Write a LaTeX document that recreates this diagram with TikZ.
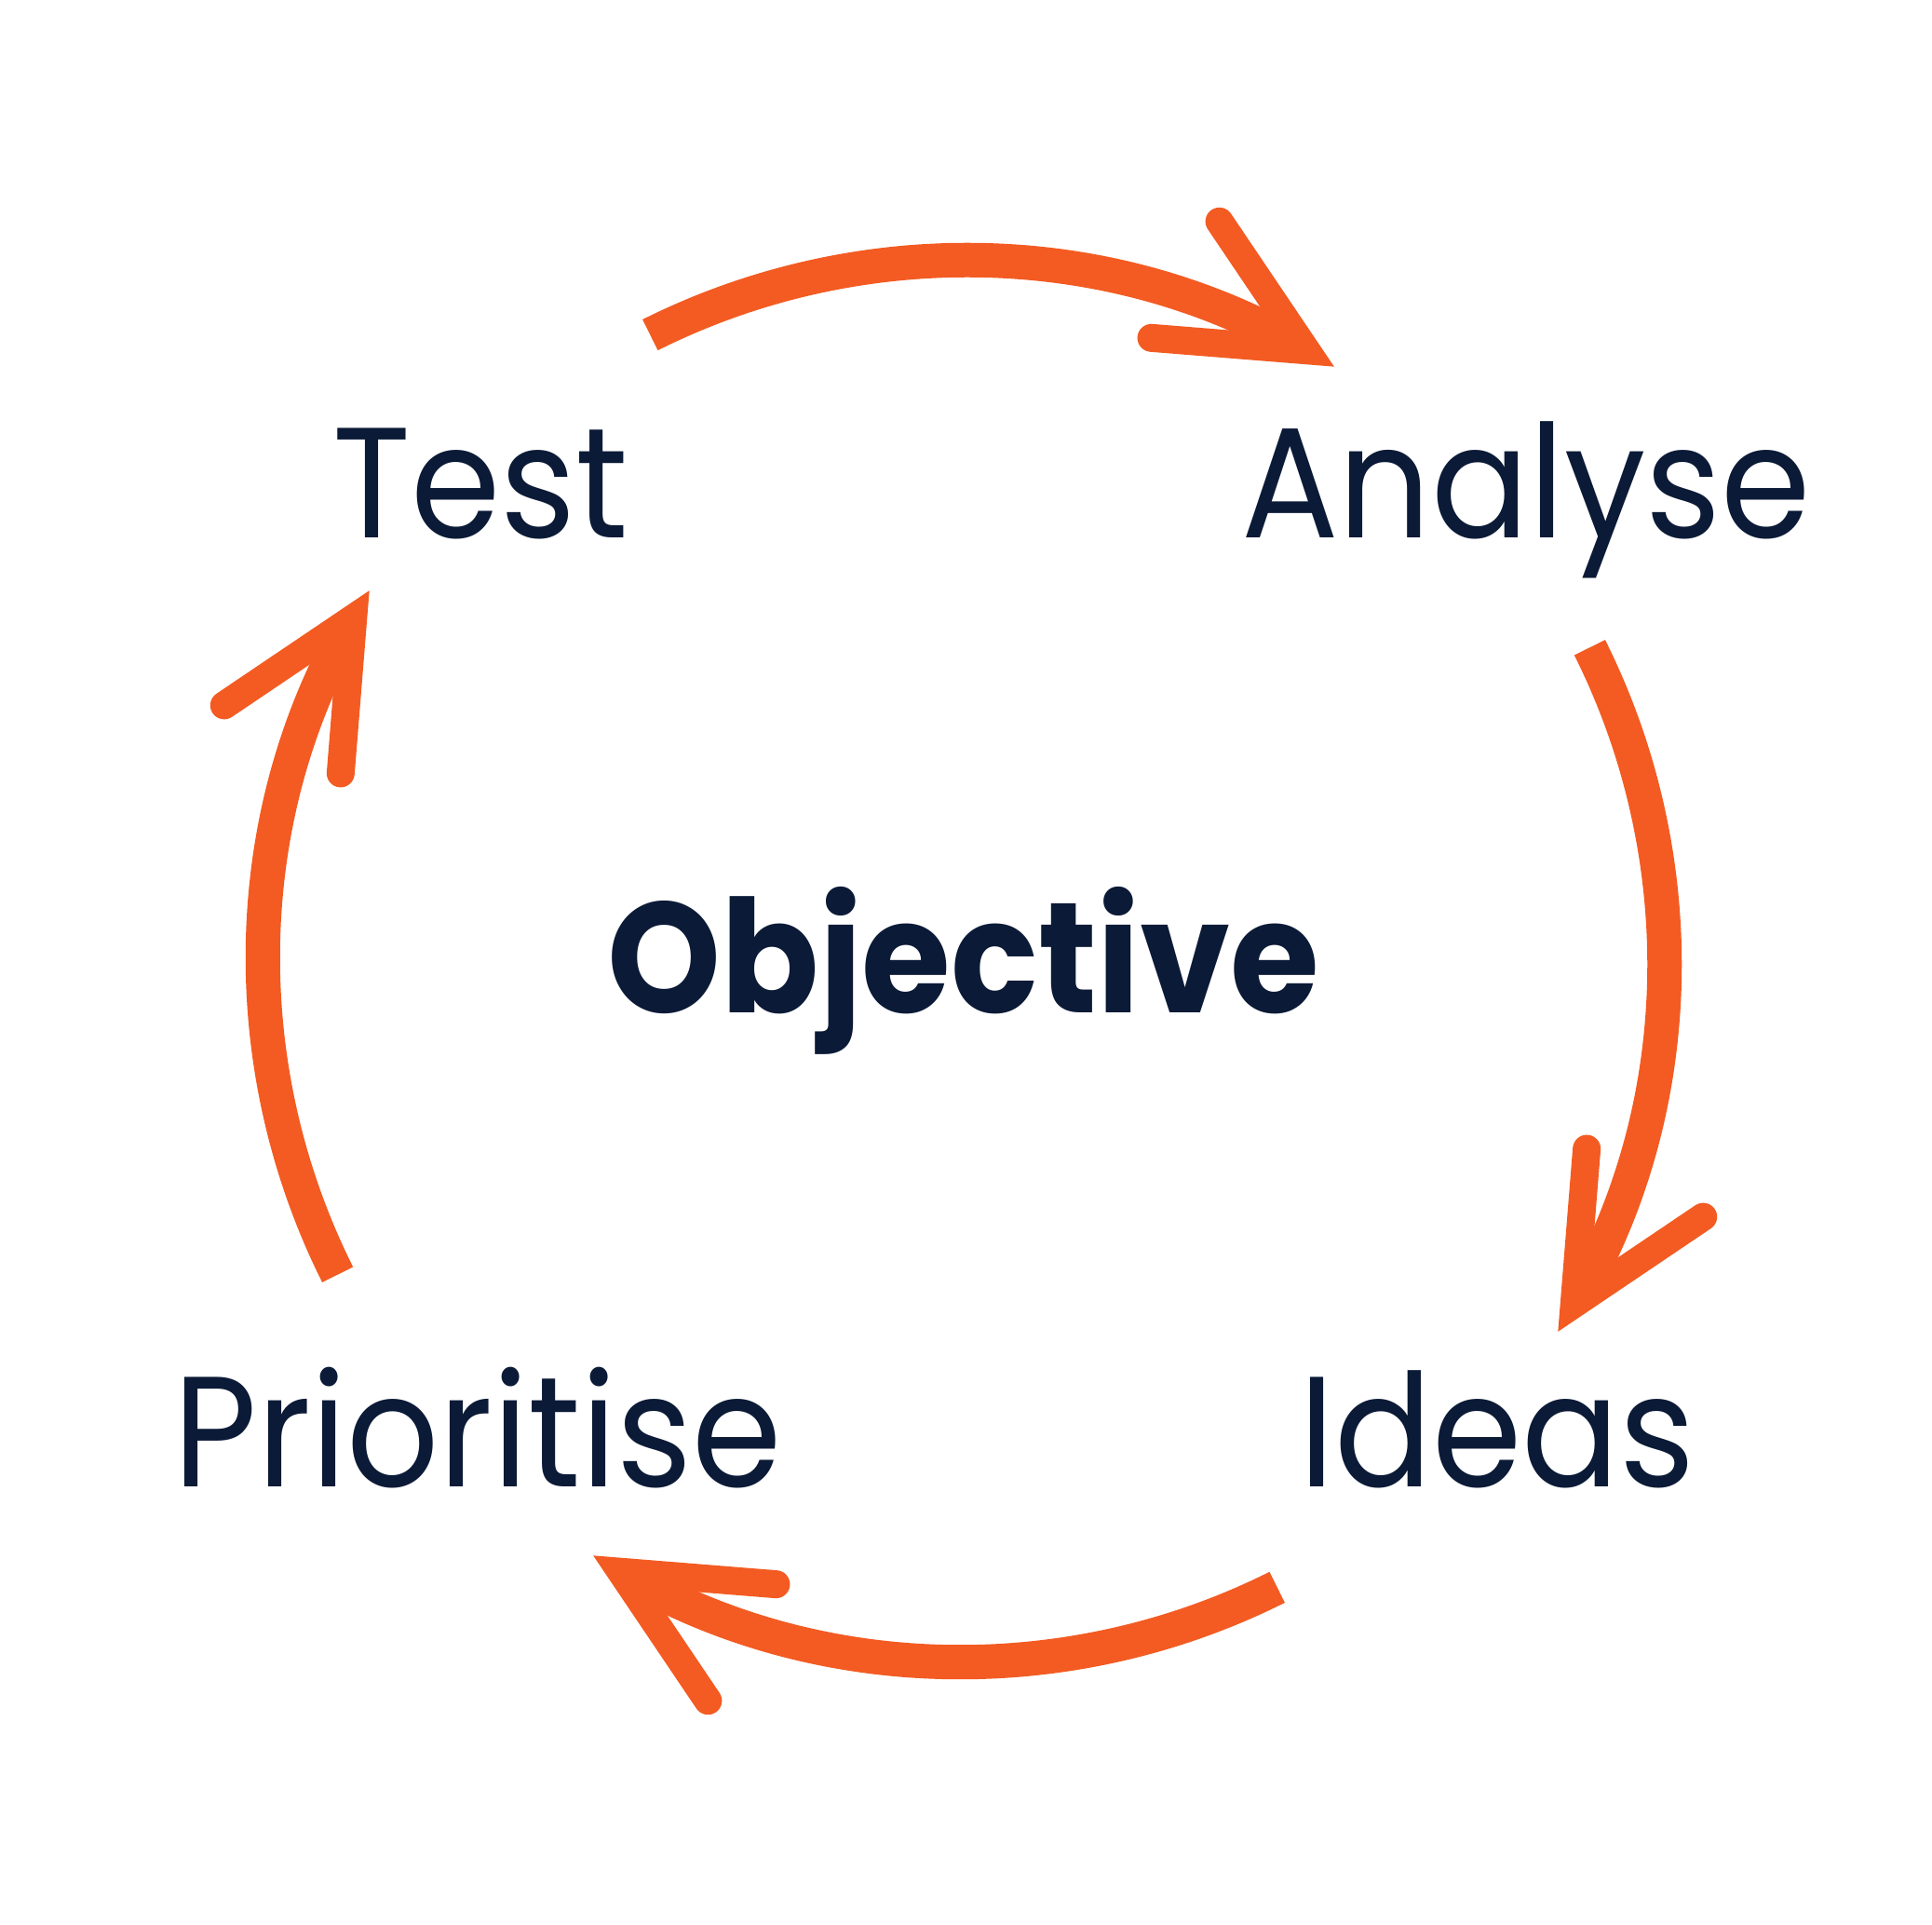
\documentclass[tikz,border=0pt]{standalone}
\usepackage{fontspec}
\setmainfont{Poppins}[BoldFont={* Bold}, FakeStretch=0.92]
\usepackage{tikz}
\usetikzlibrary{arrows.meta,positioning,calc}
\definecolor{cycorange}{HTML}{F35B22}
\definecolor{inknavy}{HTML}{0B1A36}

\begin{document}
\begin{tikzpicture}[
  stage/.style={font=\fontsize{48}{58}\selectfont, text=inknavy, inner sep=0pt, anchor=base},
  goal/.style={stage, font=\fontsize{48}{58}\selectfont\bfseries},
  cyc/.style={draw=cycorange, line width=3.7mm, line cap=butt, shorten >=1.5mm},
  barb/.style={draw=cycorange, line width=3mm, line cap=round, line join=miter}]
\useasboundingbox (0,0) rectangle (20.75,20.66);
\coordinate (hub) at (10.35,10.34);
\node[goal] (obj) at (10.35,9.78) {Objective};
\node[stage] (test) at (5.165,14.88) {Test};
\node[stage] (analyse) at (16.39,14.88) {Analyse};
\node[stage] (ideas) at (16.08,4.69) {Ideas};
\node[stage] (prio) at (5.13,4.69) {Prioritise};
% arcs round the objective, each ending in an open head
\draw[cyc] ([shift={(116.6:7.52)}]hub) arc[start angle=116.6, end angle=60.7, radius=7.52] coordinate (tipA);
\draw[barb] ([shift={(124:1.67)}]tipA) -- (tipA) -- ([shift={(175.4:1.67)}]tipA);
\draw[cyc] ([shift={(26.6:7.52)}]hub) arc[start angle=26.6, end angle=-29.3, radius=7.52] coordinate (tipI);
\draw[barb] ([shift={(34:1.67)}]tipI) -- (tipI) -- ([shift={(85.4:1.67)}]tipI);
\draw[cyc] ([shift={(-63.4:7.52)}]hub) arc[start angle=-63.4, end angle=-119.3, radius=7.52] coordinate (tipP);
\draw[barb] ([shift={(-56:1.67)}]tipP) -- (tipP) -- ([shift={(-4.6:1.67)}]tipP);
\draw[cyc] ([shift={(206.6:7.52)}]hub) arc[start angle=206.6, end angle=150.7, radius=7.52] coordinate (tipT);
\draw[barb] ([shift={(214:1.67)}]tipT) -- (tipT) -- ([shift={(265.4:1.67)}]tipT);
\end{tikzpicture}
\end{document}
